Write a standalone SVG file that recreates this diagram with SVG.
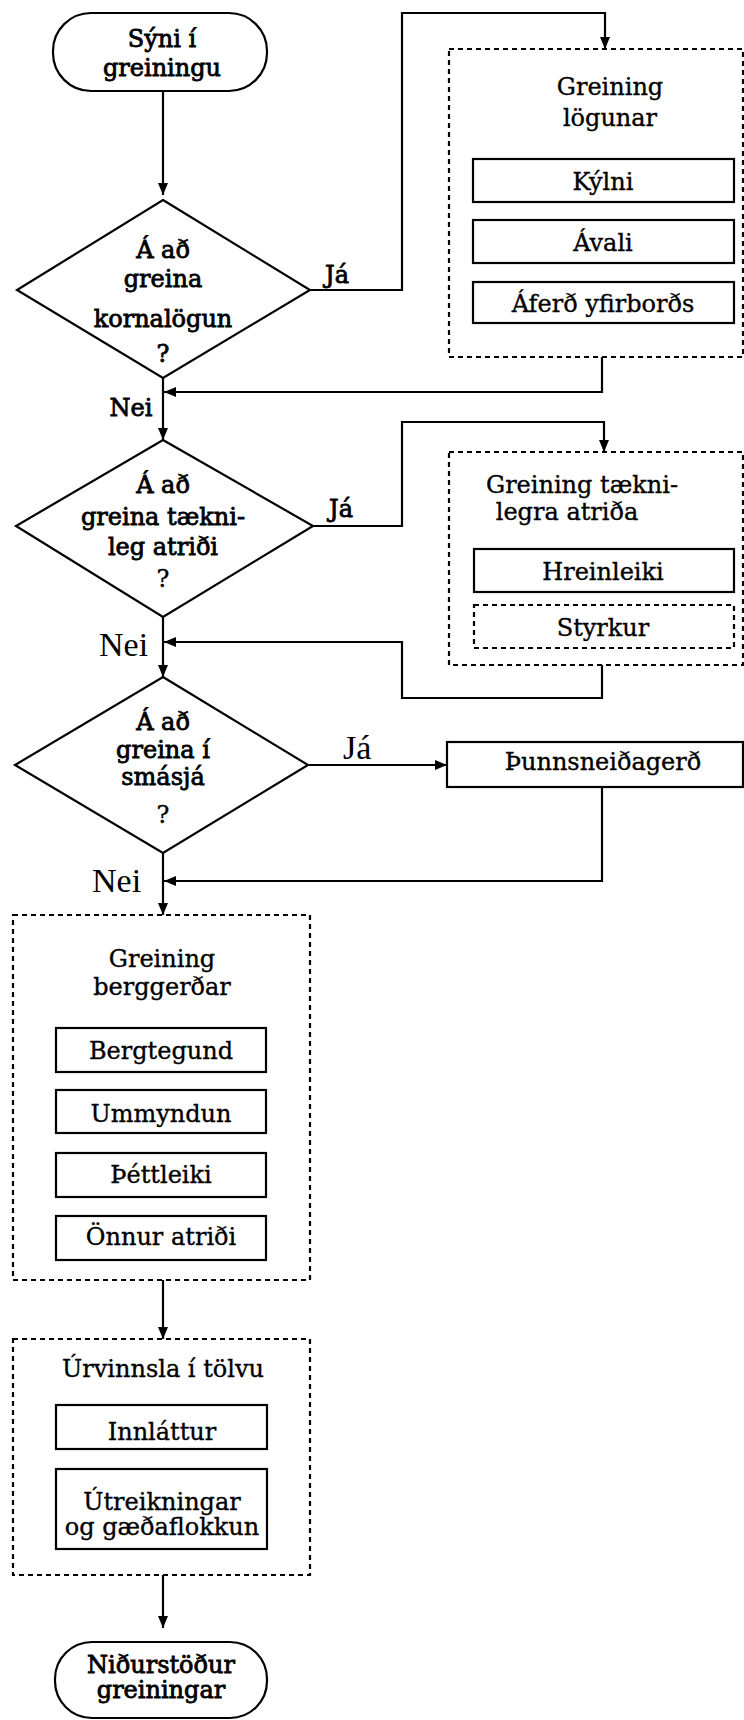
<svg xmlns="http://www.w3.org/2000/svg" width="744" height="1720" viewBox="0 0 744 1720">
<style>
.t{font-family:"DejaVu Serif","Liberation Serif",serif;font-size:24px;fill:#000;text-anchor:middle;stroke:#000;stroke-width:0.35}
.b{stroke-width:0.8}
.r{font-family:"Liberation Serif","Times New Roman",serif;font-size:34px;fill:#000;text-anchor:start}
.s{fill:#fff;stroke:#000;stroke-width:2.2}
.d{fill:none;stroke:#000;stroke-width:2.2;stroke-dasharray:5 4}
.c{fill:none;stroke:#000;stroke-width:2.2}
</style>
<defs>
<marker id="ah" markerWidth="12" markerHeight="10" refX="12" refY="5" orient="auto" markerUnits="userSpaceOnUse"><path d="M0,0 L12,5 L0,10 z" fill="#000"/></marker>
</defs>
<rect width="744" height="1720" fill="#fff"/>

<g id="connectors">
<path class="c" d="M163,91 V195" marker-end="url(#ah)"/>
<path class="c" d="M310,290 H402 V13 H605 V49" marker-end="url(#ah)"/>
<path class="c" d="M602,357 V392 H164" marker-end="url(#ah)"/>
<path class="c" d="M163,378 V440" marker-end="url(#ah)"/>
<path class="c" d="M313,526 H402 V422 H604 V452" marker-end="url(#ah)"/>
<path class="c" d="M602,665 V698 H402 V642 H164" marker-end="url(#ah)"/>
<path class="c" d="M163,617 V677" marker-end="url(#ah)"/>
<path class="c" d="M308,765 H447" marker-end="url(#ah)"/>
<path class="c" d="M602,787 V881 H164" marker-end="url(#ah)"/>
<path class="c" d="M163,853 V915" marker-end="url(#ah)"/>
<path class="c" d="M163,1280 V1339" marker-end="url(#ah)"/>
<path class="c" d="M163,1575 V1628" marker-end="url(#ah)"/>
<text class="t b" x="337" y="283">Já</text>
<text class="t b" x="131" y="416">Nei</text>
<text class="t b" x="341" y="517">Já</text>
<text class="r" x="99" y="656">Nei</text>
<text class="r" x="343" y="759">Já</text>
<text class="r" x="92" y="892">Nei</text>
</g>

<g id="start">
<rect class="s" x="53" y="13" width="214" height="78" rx="38" ry="38"/>
<text class="t b" x="162" y="47">Sýni í</text>
<text class="t b" x="162" y="76">greiningu</text>
</g>

<g id="decision1">
<polygon class="s" points="163,200 310,290 163,378 17,290"/>
<text class="t b" x="163" y="258">Á að</text>
<text class="t b" x="163" y="287">greina</text>
<text class="t b" x="163" y="327">kornalögun</text>
<text class="t b" x="163" y="362">?</text>
</g>

<g id="box-logun">
<rect class="d" x="449" y="49" width="294" height="308"/>
<text class="t" x="610" y="95">Greining</text>
<text class="t" x="610" y="126">lögunar</text>
<rect class="s" x="473" y="159" width="261" height="43"/>
<text class="t" x="603" y="190">Kýlni</text>
<rect class="s" x="473" y="220" width="261" height="43"/>
<text class="t" x="603" y="251">Ávali</text>
<rect class="s" x="473" y="282" width="261" height="41"/>
<text class="t" x="603" y="312">Áferð yfirborðs</text>
</g>

<g id="decision2">
<polygon class="s" points="163,440 313,526 163,617 16,526"/>
<text class="t b" x="163" y="493">Á að</text>
<text class="t b" x="163" y="525">greina tækni-</text>
<text class="t b" x="163" y="555">leg atriði</text>
<text class="t" x="163" y="587">?</text>
</g>

<g id="box-taekni">
<rect class="d" x="449" y="452" width="294" height="213"/>
<text class="t" x="582" y="493">Greining tækni-</text>
<text class="t" x="567" y="520">legra atriða</text>
<rect class="s" x="474" y="549" width="260" height="43"/>
<text class="t" x="603" y="580">Hreinleiki</text>
<rect class="d" x="474" y="605" width="260" height="43" stroke-width="1.5"/>
<text class="t" x="603" y="636">Styrkur</text>
</g>

<g id="decision3">
<polygon class="s" points="163,677 308,765 163,853 15,765"/>
<text class="t b" x="163" y="730">Á að</text>
<text class="t b" x="163" y="758">greina í</text>
<text class="t b" x="163" y="785">smásjá</text>
<text class="t" x="163" y="823">?</text>
</g>

<g id="box-thunn">
<rect class="s" x="447" y="742" width="296" height="45"/>
<text class="t" x="603" y="770">Þunnsneiðagerð</text>
</g>

<g id="box-berg">
<rect class="d" x="13" y="915" width="297" height="365"/>
<text class="t" x="162" y="967">Greining</text>
<text class="t" x="162" y="995">berggerðar</text>
<rect class="s" x="56" y="1028" width="210" height="44"/>
<text class="t" x="161" y="1059">Bergtegund</text>
<rect class="s" x="56" y="1090" width="210" height="43"/>
<text class="t" x="161" y="1122">Ummyndun</text>
<rect class="s" x="56" y="1153" width="210" height="44"/>
<text class="t" x="161" y="1183">Þéttleiki</text>
<rect class="s" x="56" y="1216" width="210" height="44"/>
<text class="t" x="161" y="1245">Önnur atriði</text>
</g>

<g id="box-urvinnsla">
<rect class="d" x="13" y="1339" width="297" height="236"/>
<text class="t" x="163" y="1377">Úrvinnsla í tölvu</text>
<rect class="s" x="56" y="1405" width="211" height="44"/>
<text class="t" x="162" y="1440">Innláttur</text>
<rect class="s" x="56" y="1469" width="211" height="80"/>
<text class="t" x="162" y="1510">Útreikningar</text>
<text class="t" x="162" y="1535">og gæðaflokkun</text>
</g>

<g id="end">
<rect class="s" x="55" y="1642" width="212" height="76" rx="37" ry="37"/>
<text class="t b" x="161" y="1673">Niðurstöður</text>
<text class="t b" x="161" y="1698">greiningar</text>
</g>
</svg>
